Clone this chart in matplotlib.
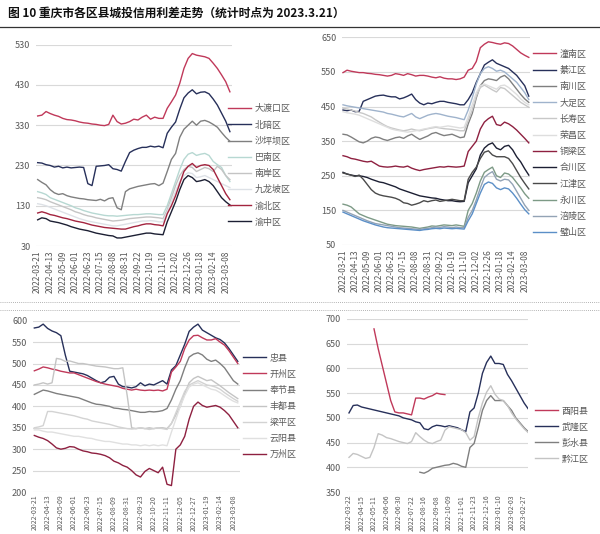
import numpy as np
import matplotlib
matplotlib.use("Agg")
from matplotlib import pyplot as plt
from matplotlib.lines import Line2D

plt.rcParams['font.family'] = ['Noto Sans CJK SC', 'DejaVu Sans']

nan = np.nan

# ---- panel 1: 主城区 ----
dates_a = ["2022-03-21", "2022-04-13", "2022-05-09", "2022-06-01", "2022-06-23", "2022-07-15",
           "2022-08-08", "2022-08-31", "2022-09-22", "2022-10-19", "2022-11-10", "2022-12-02",
           "2022-12-26", "2023-01-18", "2023-02-14", "2023-03-08"]
names_a = ["大渡口区", "北碚区", "沙坪坝区", "巴南区", "南岸区", "九龙坡区", "渝北区", "渝中区"]
dadukou = [353, 355, 364, 359, 355, 352, 347, 344, 343, 341, 338, 336, 335, 333, 332, 330, 329, 332, 355, 339,
           333, 335, 339, 345, 343, 350, 355, 345, 350, 347, 347, 372, 388, 405, 434, 471, 496, 508, 504, 502,
           500, 496, 484, 471, 455, 438, 413]
beibei = [237, 236, 232, 230, 226, 228, 224, 226, 224, 225, 226, 225, 185, 180, 228, 229, 230, 232, 222, 220,
          216, 240, 262, 268, 272, 275, 275, 278, 276, 278, 274, 310, 325, 338, 370, 398, 410, 418, 408, 412,
          413, 408, 395, 380, 360, 340, 314]
shapingba = [195, 188, 182, 170, 162, 158, 160, 155, 152, 150, 148, 147, 145, 144, 143, 146, 142, 148, 150, 125,
             120, 165, 172, 175, 178, 180, 182, 184, 185, 180, 186, 215, 245, 260, 300, 320, 330, 340, 330, 340,
             342, 338, 332, 325, 312, 300, 290]
banan = [165, 162, 158, 150, 146, 142, 138, 134, 130, 125, 122, 118, 115, 112, 110, 108, 106, 105, 105, 104,
         105, 106, 107, 108, 108, 109, 110, 110, 109, 108, 108, 130, 160, 190, 220, 245, 258, 262, 255, 258,
         260, 255, 240, 232, 225, 205, 190]
nanan = [150, 148, 145, 140, 136, 132, 128, 124, 120, 115, 112, 108, 105, 103, 100, 98, 96, 94, 92, 93,
         94, 96, 98, 99, 100, 101, 102, 102, 101, 100, 98, 120, 150, 180, 205, 220, 228, 225, 215, 220,
         225, 222, 215, 228, 220, 205, 195]
jiulongpo = [135, 133, 130, 126, 122, 118, 114, 110, 106, 102, 98, 95, 92, 90, 88, 86, 84, 82, 80, 80,
             82, 84, 86, 88, 90, 92, 92, 93, 92, 90, 90, 115, 140, 165, 190, 205, 212, 210, 200, 202,
             205, 200, 195, 190, 185, 180, 175]
yubei = [112, 115, 112, 108, 106, 103, 100, 98, 95, 92, 90, 88, 85, 82, 80, 78, 76, 75, 74, 73,
         72, 72, 75, 78, 80, 83, 85, 85, 83, 82, 80, 110, 130, 155, 185, 215, 228, 235, 225, 230,
         232, 230, 220, 200, 180, 160, 145]
yuzhong = [95, 100, 98, 92, 90, 88, 85, 82, 78, 75, 72, 70, 68, 65, 62, 60, 58, 56, 55, 50,
           50, 52, 54, 56, 58, 60, 62, 62, 60, 59, 58, 90, 115, 140, 170, 195, 205, 200, 190, 192,
           195, 190, 180, 165, 150, 140, 132]

# ---- panel 2: 渝西及周边 ----
dates_b = dates_a
names_b = ["潼南区", "綦江区", "南川区", "大足区", "长寿区", "荣昌区", "铜梁区", "合川区", "江津区",
           "永川区", "涪陵区", "璧山区"]
tongnan = [548, 555, 552, 550, 548, 548, 546, 545, 543, 542, 540, 538, 540, 545, 543, 540, 545, 542, 538, 540,
           540, 538, 535, 533, 536, 532, 530, 530, 528, 530, 535, 555, 560, 580, 620, 630, 637, 635, 632, 630,
           634, 632, 625, 615, 605, 598, 592]
qijiang = [440, 438, 440, 435, 436, 465, 470, 475, 480, 482, 483, 480, 478, 478, 472, 475, 480, 486, 470, 460,
           455, 460, 458, 462, 465, 465, 462, 460, 458, 455, 455, 470, 490, 520, 545, 570, 578, 585, 575, 570,
           565, 560, 550, 540, 525, 510, 480]
nanchuan = [370, 368, 362, 355, 348, 345, 350, 358, 362, 360, 355, 352, 356, 360, 362, 358, 365, 370, 362, 355,
            360, 365, 372, 375, 370, 366, 368, 370, 365, 360, 362, 400, 430, 475, 510, 525, 530, 528, 525, 535,
            540, 530, 515, 500, 485, 472, 462]
dazu = [455, 452, 450, 448, 446, 444, 442, 440, 438, 436, 434, 430, 428, 425, 422, 420, 425, 430, 420, 415,
        420, 425, 428, 430, 428, 425, 422, 420, 418, 415, 412, 440, 475, 515, 545, 560, 565, 560, 552, 555,
        550, 540, 530, 520, 505, 490, 470]
changshou = [445, 443, 440, 437, 433, 430, 425, 420, 412, 405, 398, 392, 388, 385, 382, 380, 382, 385, 382, 380,
             383, 386, 388, 390, 388, 386, 385, 384, 382, 380, 380, 410, 440, 480, 505, 512, 505, 498, 492, 505,
             502, 492, 482, 472, 462, 455, 448]
rongchang = [435, 432, 430, 428, 425, 420, 415, 410, 405, 400, 395, 390, 385, 382, 380, 378, 376, 378, 380, 382,
             385, 387, 390, 392, 390, 392, 394, 392, 390, 388, 390, 420, 455, 490, 510, 515, 510, 505, 500, 510,
             512, 505, 495, 485, 472, 462, 455]
tongliang = [308, 305, 300, 298, 295, 292, 290, 292, 285, 278, 276, 275, 276, 278, 276, 275, 278, 272, 268, 265,
             268, 270, 272, 274, 276, 275, 277, 276, 275, 276, 278, 320, 335, 350, 385, 405, 415, 422, 398, 395,
             405, 400, 392, 382, 370, 358, 345]
hechuan = [260, 255, 252, 250, 250, 248, 245, 240, 236, 232, 230, 226, 222, 218, 212, 208, 204, 200, 196, 192,
           190, 188, 186, 185, 182, 180, 178, 178, 176, 175, 176, 230, 250, 270, 310, 330, 340, 345, 330, 325,
           335, 338, 325, 305, 290, 270, 252]
jiangjin = [258, 255, 252, 248, 252, 240, 225, 210, 200, 195, 192, 190, 188, 185, 180, 172, 170, 165, 168, 172,
            178, 175, 178, 180, 176, 178, 180, 182, 180, 178, 178, 240, 260, 275, 300, 318, 322, 310, 305, 305,
            305, 300, 285, 265, 245, 228, 212]
yongchuan = [168, 165, 160, 150, 140, 135, 130, 126, 122, 118, 114, 110, 108, 106, 105, 104, 103, 102, 100, 98,
             100, 102, 105, 104, 106, 108, 107, 106, 108, 106, 104, 150, 170, 200, 235, 260, 268, 275, 250, 245,
             258, 255, 245, 230, 215, 198, 185]
fuling = [150, 145, 140, 135, 130, 125, 120, 116, 112, 110, 108, 106, 104, 102, 100, 99, 98, 97, 96, 95,
          97, 98, 100, 102, 101, 103, 102, 100, 102, 100, 100, 130, 150, 180, 215, 245, 255, 262, 240, 235,
          240, 238, 225, 205, 185, 165, 150]
bishan = [145, 140, 135, 130, 125, 120, 116, 112, 108, 105, 102, 100, 99, 98, 97, 96, 95, 94, 93, 92,
          94, 95, 97, 98, 97, 99, 98, 97, 98, 97, 96, 120, 140, 170, 200, 225, 232, 228, 215, 210,
          215, 212, 200, 185, 168, 152, 140]

# ---- panel 3: 渝东北 ----
dates_c = ["2022-03-21", "2022-04-13", "2022-05-09", "2022-06-01", "2022-06-23", "2022-07-15",
           "2022-08-09", "2022-08-31", "2022-09-23", "2022-10-20", "2022-11-11", "2022-12-05",
           "2022-12-27", "2023-01-19", "2023-02-14", "2023-03-08"]
names_c = ["忠县", "开州区", "奉节县", "丰都县", "梁平区", "云阳县", "万州区"]
zhongxian = [583, 585, 592, 582, 576, 572, 565, 520, 482, 480, 478, 476, 472, 466, 460, 455, 458, 468, 470, 452,
             446, 445, 443, 446, 455, 448, 452, 450, 455, 460, 452, 485, 495, 520, 545, 575, 585, 592, 578, 572,
             566, 560, 556, 548, 535, 520, 505]
kaizhou = [483, 487, 492, 490, 487, 485, 482, 480, 478, 478, 474, 470, 466, 462, 458, 455, 452, 450, 448, 446,
           442, 440, 438, 440, 438, 437, 438, 437, 438, 436, 440, 480, 492, 505, 535, 555, 565, 566, 560, 555,
           555, 558, 550, 543, 530, 515, 500]
fengjie = [428, 433, 438, 436, 433, 430, 428, 426, 424, 422, 420, 416, 412, 408, 405, 404, 402, 400, 396, 395,
           393, 392, 390, 388, 386, 386, 388, 387, 388, 390, 395, 415, 440, 460, 490, 515, 522, 525, 520, 510,
           505, 508, 500, 490, 475, 460, 452]
fengdu = [450, 452, 455, 452, 455, 512, 510, 505, 506, 503, 500, 500, 498, 496, 494, 493, 492, 490, 488, 488,
          490, 425, 350, 348, 350, 348, 350, 348, 350, 350, 348, 360, 380, 400, 430, 455, 465, 470, 465, 460,
          462, 455, 448, 440, 432, 425, 418]
liangping = [350, 352, 355, 388, 388, 386, 384, 382, 380, 378, 375, 372, 370, 366, 364, 362, 360, 358, 355, 352,
             350, 348, 347, 348, 350, 348, 346, 348, 350, 348, 346, 360, 385, 410, 435, 450, 455, 460, 455, 450,
             448, 445, 440, 432, 425, 418, 412]
yunyang = [345, 345, 342, 340, 340, 338, 336, 334, 332, 330, 330, 328, 326, 325, 322, 320, 318, 318, 316, 314,
           312, 312, 310, 310, 308, 310, 308, 310, 308, 310, 308, 340, 370, 400, 425, 445, 452, 455, 450, 445,
           440, 438, 432, 425, 418, 412, 408]
wanzhou = [332, 328, 325, 320, 312, 303, 300, 302, 306, 305, 300, 296, 294, 291, 290, 288, 285, 280, 272, 268,
           262, 258, 250, 240, 235, 248, 255, 250, 245, 258, 218, 215, 300, 310, 330, 370, 400, 410, 402, 398,
           400, 402, 398, 390, 380, 365, 350]

# ---- panel 4: 渝东南 ----
dates_d = ["2022-03-22", "2022-04-15", "2022-05-11", "2022-06-06", "2022-06-30", "2022-07-22",
           "2022-08-16", "2022-09-08", "2022-10-09", "2022-11-01", "2022-11-23", "2022-12-16",
           "2023-01-10", "2023-02-03", "2023-02-27"]
names_d = ["酉阳县", "武隆区", "彭水县", "黔江区"]
youyang = [nan] * 6 + [680, 640, 605, 570, 535, 512, 510, 510, 508, 506, 540, 540, 538, 542, 545, 550, 548,
                       547] + [nan] * 20
wulong = [510, 525, 526, 522, 520, 518, 516, 514, 512, 510, 508, 506, 504, 500, 498, 496, 492, 490, 478, 476,
          482, 485, 484, 482, 484, 482, 480, 476, 472, 512, 520, 550, 590, 612, 625, 610, 610, 608, 588, 575,
          560, 545, 530, 518]
pengshui = [nan] * 17 + [390, 388, 392, 398, 400, 402, 404, 405, 408, 406, 402, 400, 440, 448, 480, 515, 535,
                         545, 535, 535, 535, 525, 515, 500, 490, 480, 472]
qianjiang = [420, 428, 426, 422, 418, 420, 440, 468, 465, 460, 458, 455, 452, 450, 448, 452, 470, 462, 455, 450,
             448, 452, 455, 475, 482, 480, 478, 476, 470, 455, 462, 500, 530, 552, 565, 548, 538, 535, 525, 510,
             498, 488, 478, 470]

CRIMSON = "#c0395a"
NAVY = "#27305a"
GRAY = "#7f7f7f"
TEXT = "#595959"
GRID = "#d9d9d9"

W, H = 600, 534
fig = plt.figure(figsize=(6.0, 5.34), dpi=100)


def px_rect(x0, y_top, x1, y_bot):
    return [x0 / W, 1 - y_bot / H, (x1 - x0) / W, (y_bot - y_top) / H]


def draw_panel(rect, series, names, colors, ylim, ystep, dates, xlim, leg_xy, spacing,
               date_size=6, date_pad=3):
    ax = fig.add_axes(rect)
    for vals, name, c in zip(series, names, colors):
        ax.plot(np.arange(len(vals)), vals, color=c, lw=1.0, label=name)
    ax.set_ylim(*ylim)
    ax.set_yticks(np.arange(ylim[0], ylim[1] + 1, ystep))
    ax.set_xlim(*xlim)
    ax.set_xticks(np.arange(len(dates)) * 3)
    ax.set_xticklabels(dates, rotation=90)
    ax.grid(axis="y", color=GRID, lw=0.8)
    ax.set_axisbelow(True)
    for s in ax.spines.values():
        s.set_visible(False)
    ax.tick_params(length=0, colors=TEXT)
    ax.tick_params(axis="x", labelsize=date_size, pad=date_pad)
    ax.tick_params(axis="y", labelsize=6.5, pad=4)
    ax.legend(loc="upper left", bbox_to_anchor=(leg_xy[0] / W, 1 - leg_xy[1] / H),
              bbox_transform=fig.transFigure, frameon=False, fontsize=6.5,
              handlelength=2.6, handletextpad=0.35, labelspacing=spacing,
              borderpad=0, borderaxespad=0, labelcolor=TEXT)
    return ax


draw_panel(px_rect(36, 44.7, 232, 246),
           [dadukou, beibei, shapingba, banan, nanan, jiulongpo, yubei, yuzhong], names_a,
           [CRIMSON, NAVY, GRAY, "#b7d8d2", "#c4c4c4", "#dde1e6", "#a3243f", "#1c1f33"],
           (30, 530), 100, dates_a, (-0.4, 46.5), (228, 104.5), 0.79)

draw_panel(px_rect(342, 37.3, 530, 245),
           [tongnan, qijiang, nanchuan, dazu, changshou, rongchang, tongliang, hechuan, jiangjin,
            yongchuan, fuling, bishan], names_b,
           [CRIMSON, NAVY, GRAY, "#9fb3cc", "#c8c8c8", "#dedede", "#8e2040", "#1c1f33", "#4a4a4a",
            "#7d9a86", "#93a3b5", "#5b8fc7"],
           (50, 650), 100, dates_b, (-0.25, 46.3), (533, 49.5), 0.80)

draw_panel(px_rect(33, 320.7, 240, 492),
           [zhongxian, kaizhou, fengjie, fengdu, liangping, yunyang, wanzhou], names_c,
           [NAVY, CRIMSON, GRAY, "#c4c4c4", "#d3d3d3", "#e0e0e0", "#8e2040"],
           (200, 600), 50, dates_c, (-0.3, 46.5), (243, 353.5), 0.78, date_size=5, date_pad=2)

draw_panel(px_rect(346.7, 319, 528.3, 492),
           [youyang, wulong, pengshui, qianjiang], names_d,
           [CRIMSON, NAVY, GRAY, "#c4c4c4"],
           (350, 700), 50, dates_d, (-0.55, 43.0), (535, 406.5), 0.78, date_size=5, date_pad=2)

# title and separators
fig.text(8 / W, 1 - 13 / H, "图 10 重庆市各区县城投信用利差走势（统计时点为 2023.3.21）",
         fontsize=8.5, fontweight="bold", va="center", ha="left", color="#111111")
fig.add_artist(Line2D([0, 1], [1 - 27 / H] * 2, color="#333333", lw=0.9))
for yy in (302, 310):
    fig.add_artist(Line2D([0, 1], [1 - yy / H] * 2, color="#9a9a9a", lw=0.6, ls=(0, (1, 1.5))))

fig.savefig("out.png", dpi=100)
